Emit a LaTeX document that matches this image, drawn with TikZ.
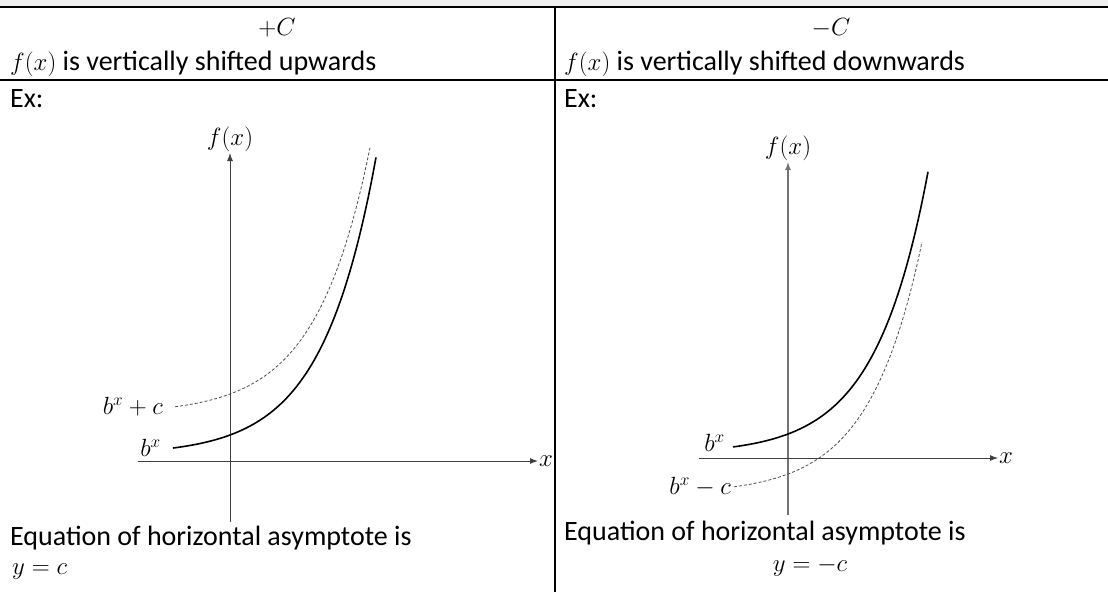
\documentclass[tikz,border=0pt]{standalone}
\usepackage{amsmath,amssymb}
\usepackage{fontspec}
\setmainfont{Carlito}
\usetikzlibrary{arrows, arrows.meta, positioning, calc}

\begin{document}
\begin{tikzpicture}[x=1pt, y=-1pt, font=\fontsize{28}{32}\selectfont]
        \tikzstyle{txt} = [anchor=base west, inner sep=0pt]
        \tikzstyle{head} = [anchor=base, inner sep=0pt]
        \tikzstyle{rule} = [draw, line width=2pt]
        \tikzstyle{axis} = [draw, -{Latex[length=8pt,width=6pt]}, line width=1pt, black!75]
        \tikzstyle{curve} = [draw, line width=1.6pt]
        \tikzstyle{shifted} = [draw, dash pattern=on 3pt off 2pt, line width=0.8pt, black!70]
        \tikzstyle{lbl} = [inner sep=1pt, font=\fontsize{23}{26}\selectfont]

        \useasboundingbox (0,0) rectangle (1108,592);
        \fill[black!6] (0,0) rectangle (1108,6);

        % table
        \path [rule] (0,7) -- (1108,7);
        \path [rule] (0,80) -- (1108,80);
        \path [rule] (555,7) -- (555,592);

        \node [head] (plusC) at (277,35) {$+C$};
        \node [head] (minusC) at (831,35) {$-C$};
        \node [txt] (upL) at (10,70) {$f(x)$ is vertically shifted upwards};
        \node [txt] (downR) at (564,70) {$f(x)$ is vertically shifted downwards};
        \node [txt] (exL) at (10,107) {Ex:};
        \node [txt] (exR) at (564,107) {Ex:};

        % left graph
        \coordinate (yL0) at (230,522);
        \coordinate (yL1) at (230,153);
        \coordinate (xL0) at (138,461);
        \coordinate (xL1) at (538,461);
        \path [axis] (yL0) -- (yL1);
        \path [axis] (xL0) -- (xL1);
        \node [lbl, above=0pt of yL1] (fxL) {$f(x)$};
        \node [lbl, right=0pt of xL1] (xlabL) {$x$};
        \coordinate (sL) at (173,448);
        \coordinate (dL) at (175,406.8);
        \path [curve] plot[domain=173:376, samples=80] (\x, {455 - 20*exp(0.0185*(\x-230))});
        \path [shifted] plot[domain=175:370, samples=80] (\x, {414 - 20*exp(0.0185*(\x-230))});
        \node [lbl, left=11pt of sL] (bxL) {$b^x$};
        \node [lbl, left=11pt of dL] (bxcL) {$b^x + c$};

        % right graph
        \coordinate (yR0) at (788,515);
        \coordinate (yR1) at (788,162);
        \coordinate (xR0) at (699,458);
        \coordinate (xR1) at (998,458);
        \path [axis, black!55, line width=1.4pt] (yR0) -- (yR1);
        \path [axis] (xR0) -- (xR1);
        \node [lbl, above=0pt of yR1] (fxR) {$f(x)$};
        \node [lbl, right=0pt of xR1] (xlabR) {$x$};
        \coordinate (sR) at (733,446.9);
        \coordinate (dR) at (734,486.8);
        \path [curve] plot[domain=733:928, samples=80] (\x, {454 - 20*exp(0.0189*(\x-788))});
        \path [shifted] plot[domain=734:922, samples=80] (\x, {494 - 20*exp(0.0189*(\x-788))});
        \node [lbl, left=7pt of sR, yshift=4pt] (bxR) {$b^x$};
        \node [lbl, left=2pt of dR] (bxcR) {$b^x - c$};

        % asymptotes
        \node [txt] (eqL) at (10,545) {Equation of horizontal asymptote is};
        \node [txt] (asL) at (12,574) {$y = c$};
        \node [txt] (eqR) at (564,540) {Equation of horizontal asymptote is};
        \node [head] (asR) at (810,571) {$y = -c$};
    \end{tikzpicture}
\end{document}
